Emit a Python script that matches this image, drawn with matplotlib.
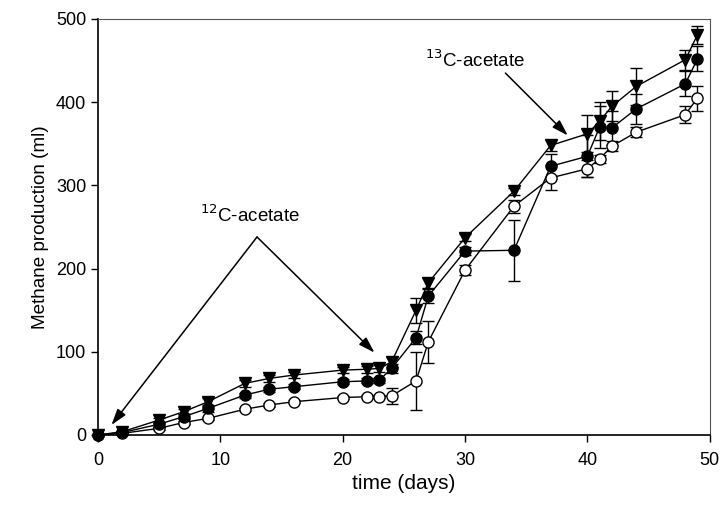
import matplotlib.pyplot as plt

plt.rcParams['font.family'] = ['Liberation Sans', 'DejaVu Sans']

days = [0, 2, 5, 7, 9, 12, 14, 16, 20, 22, 23, 24, 26, 27, 30, 34, 37, 40, 41, 42, 44, 48, 49]

tri = [0, 4, 18, 28, 40, 62, 68, 72, 78, 79, 80, 88, 150, 183, 237, 293, 348, 362, 377, 395, 419, 451, 481]
tri_err = [0, 1, 3, 3, 5, 4, 4, 4, 4, 4, 4, 6, 15, 6, 4, 4, 7, 22, 23, 18, 22, 12, 11]

filled = [0, 3, 13, 22, 32, 48, 55, 58, 64, 65, 66, 80, 117, 167, 221, 222, 323, 335, 370, 369, 392, 422, 452]
filled_err = [0, 1, 3, 3, 4, 3, 3, 3, 3, 3, 3, 5, 8, 8, 5, 37, 15, 25, 25, 20, 18, 15, 15]

open_c = [0, 2, 8, 15, 20, 31, 36, 40, 45, 46, 46, 47, 65, 112, 198, 275, 309, 320, 332, 347, 364, 385, 405]
open_err = [0, 1, 2, 2, 2, 2, 2, 2, 2, 2, 2, 10, 35, 25, 6, 8, 15, 10, 5, 6, 6, 10, 15]

fig = plt.figure(figsize=(7.22, 5.09), dpi=100)
ax = fig.add_axes([0.1357, 0.1454, 0.8473, 0.8173])

common = dict(color='black', lw=1, ms=8, capsize=4.5, elinewidth=1, capthick=1)
# open circles first so the filled ones sit on top at day 0
for y, e, m, fc in [(open_c, open_err, 'o', 'white'),
                    (tri, tri_err, 'v', 'black'),
                    (filled, filled_err, 'o', 'black')]:
    cont = ax.errorbar(days, y, yerr=e, marker=m, mfc=fc, mec='black', **common)
    cont[0].set_clip_on(False)

ax.set_xlim(0, 50)
ax.set_ylim(0, 500)
ax.set_xticks([0, 10, 20, 30, 40, 50])
ax.set_yticks([0, 100, 200, 300, 400, 500])
ax.tick_params(direction='out', labelsize=13, length=5, width=1, colors='black')
ax.tick_params(axis='x', pad=7)
for s in ['top', 'right']:
    ax.spines[s].set_color('#555555')
    ax.spines[s].set_linewidth(0.8)
for s in ['left', 'bottom']:
    ax.spines[s].set_linewidth(1.2)

ax.set_xlabel('time (days)', fontsize=15, labelpad=4)
ax.set_ylabel('Methane production (ml)', fontsize=13.6, labelpad=5)

arrow = dict(arrowstyle='-|>,head_length=0.7,head_width=0.22', color='black',
             lw=1.1, mutation_scale=14, shrinkA=0, shrinkB=0)
ax.text(12.4, 264, '$^{12}$C-acetate', ha='center', va='center', fontsize=13.5)
ax.annotate('', xy=(1.1, 12), xytext=(13.0, 238), arrowprops=arrow)
ax.annotate('', xy=(22.6, 99), xytext=(13.0, 238), arrowprops=arrow)
ax.text(30.8, 451, '$^{13}$C-acetate', ha='center', va='center', fontsize=13.5)
ax.annotate('', xy=(38.4, 360), xytext=(33.3, 435), arrowprops=arrow)

fig.savefig('out.png', dpi=100)
